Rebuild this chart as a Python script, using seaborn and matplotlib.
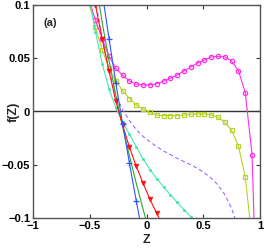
import matplotlib
matplotlib.use("Agg")
import matplotlib.pyplot as plt
import seaborn as sns

# ---- data ----
x_mag = [-0.51, -0.45, -0.39, -0.33, -0.27, -0.21, -0.15, -0.09, -0.03, 0.03, 0.09, 0.15, 0.21,
         0.27, 0.33, 0.39, 0.45, 0.51, 0.57, 0.63, 0.69, 0.75, 0.81, 0.87, 0.93, 0.99]
y_mag = [0.106, 0.086, 0.068, 0.052, 0.0405, 0.034, 0.0285, 0.0257, 0.0249, 0.0249, 0.0261, 0.0284,
         0.0312, 0.0343, 0.0380, 0.0418, 0.0455, 0.0484, 0.0512, 0.0518, 0.0512, 0.0474, 0.0383,
         0.0177, -0.0404, -0.25]

x_yel = [-0.51, -0.45, -0.39, -0.33, -0.27, -0.21, -0.15, -0.09, -0.03, 0.03, 0.09, 0.15, 0.21,
         0.27, 0.33, 0.39, 0.45, 0.51, 0.57, 0.63, 0.69, 0.75, 0.81, 0.87, 0.93]
y_yel = [0.103, 0.079, 0.058, 0.0405, 0.0285, 0.0195, 0.0122, 0.0061, 0.0023, -0.0009, -0.0033,
         -0.0039, -0.0039, -0.0039, -0.0033, -0.0026, -0.0023, -0.0023, -0.0033, -0.0056, -0.0099,
         -0.0178, -0.0324, -0.0615, -0.12]

x_dash = [-0.51, -0.45, -0.39, -0.33, -0.27, -0.21, -0.15, -0.09, -0.03, 0.03, 0.09, 0.15, 0.21,
          0.27, 0.33, 0.39, 0.45, 0.51, 0.57, 0.63, 0.69, 0.75, 0.81]
y_dash = [0.15, 0.105, 0.068, 0.038, 0.0155, 0.0015, -0.0085, -0.0170, -0.0235, -0.0284, -0.0330,
          -0.0370, -0.0405, -0.0440, -0.0470, -0.0500, -0.0535, -0.0575, -0.0625, -0.0690, -0.0780,
          -0.0910, -0.1100]

x_cyan = [-0.51, -0.45, -0.39, -0.33, -0.27, -0.21, -0.15, -0.09, -0.03, 0.03, 0.09, 0.15, 0.21,
          0.27, 0.33, 0.39, 0.45]
y_cyan = [0.11, 0.075, 0.045, 0.021, 0.0033, -0.0099, -0.0215, -0.0330, -0.0445, -0.0545, -0.0630,
          -0.0708, -0.0782, -0.0853, -0.0922, -0.0988, -0.1052]

x_red = [-0.51, -0.45, -0.39, -0.33, -0.27, -0.21, -0.15, -0.09, -0.03, 0.03, 0.09, 0.15]
y_red = [0.133, 0.100, 0.068, 0.038, 0.0095, -0.0130, -0.0336, -0.0515, -0.0674, -0.0823, -0.0956,
         -0.108]

x_grn = [-0.51, -0.45, -0.39, -0.33, -0.27, -0.21, -0.15, -0.09, -0.03, 0.03]
y_grn = [0.166, 0.124, 0.0834, 0.0476, 0.0149, -0.0146, -0.0418, -0.0675, -0.0918, -0.115]

x_blu = [-0.45, -0.39, -0.33, -0.27, -0.21, -0.15, -0.09, -0.03]
y_blu = [0.159, 0.1117, 0.0682, 0.0267, -0.012, -0.0488, -0.0840, -0.118]

x_ticks = [-1, -0.5, 0, 0.5, 1]
x_ticklabels = ["\u22121", "\u22120.5", "0", "0.5", "1"]
y_ticks = [-0.1, -0.05, 0, 0.05, 0.1]
y_ticklabels = ["\u22120.1", "\u22120.05", "0", "0.05", "0.1"]

# ---- figure ----
sns.set_style("ticks")
plt.rcParams["font.family"] = ["Liberation Sans", "DejaVu Sans"]
plt.rcParams["font.weight"] = "bold"

fig = plt.figure(figsize=(2.66, 2.49), dpi=100)
ax = fig.add_axes([33 / 266, 1 - 218 / 249, 227 / 266, 213 / 249])

ax.axhline(0, color="#333333", lw=1.0, zorder=1)

lw = 0.8
sns.lineplot(x=x_dash, y=y_dash, ax=ax, sort=False, color="#a066ff", lw=lw,
             linestyle=(0, (3.5, 2.5)))
sns.lineplot(x=x_yel, y=y_yel, ax=ax, sort=False, color="#b7d22a", lw=lw, marker="s",
             markersize=2.8, markerfacecolor="none", markeredgewidth=0.9, markeredgecolor="#b7d22a")
sns.lineplot(x=x_mag, y=y_mag, ax=ax, sort=False, color="#ff2ee6", lw=lw, marker="o",
             markersize=3.1, markerfacecolor="none", markeredgewidth=0.9, markeredgecolor="#ff2ee6")
sns.lineplot(x=x_cyan, y=y_cyan, ax=ax, sort=False, color="#45e8b0", lw=lw, marker="o",
             markersize=2.2, markeredgewidth=0)
sns.lineplot(x=x_grn, y=y_grn, ax=ax, sort=False, color="#2ea82e", lw=lw)
sns.lineplot(x=x_red, y=y_red, ax=ax, sort=False, color="#ff1010", lw=lw, marker="v",
             markersize=3.4, markeredgewidth=0.5, markeredgecolor="#ff1010")
sns.lineplot(x=x_blu, y=y_blu, ax=ax, sort=False, color="#2e55ff", lw=lw, marker="+",
             markersize=3.8, markeredgewidth=0.9, markeredgecolor="#2e55ff")

ax.set_xlim(-1, 1)
ax.set_ylim(-0.1, 0.1)
ax.set_xticks(x_ticks)
ax.set_xticklabels(x_ticklabels)
ax.set_yticks(y_ticks)
ax.set_yticklabels(y_ticklabels)
ax.tick_params(direction="in", length=3, width=0.8, top=True, right=True,
               labelsize=8, pad=2, colors="#333333", labelcolor="black")
for sp in ax.spines.values():
    sp.set_visible(True)
    sp.set_color("#555555")
    sp.set_linewidth(1.0)

ax.set_xlabel("Z", fontsize=9, fontweight="bold")
ax.set_ylabel("f(Z)", fontsize=9, fontweight="bold")
ax.xaxis.set_label_coords(0.5, -0.075)
ax.yaxis.set_label_coords(-0.06, 0.5)
ax.text(-0.85, 0.083, "(a)", fontsize=8, fontweight="bold", ha="center", va="center")

fig.savefig("out.png", dpi=100)
